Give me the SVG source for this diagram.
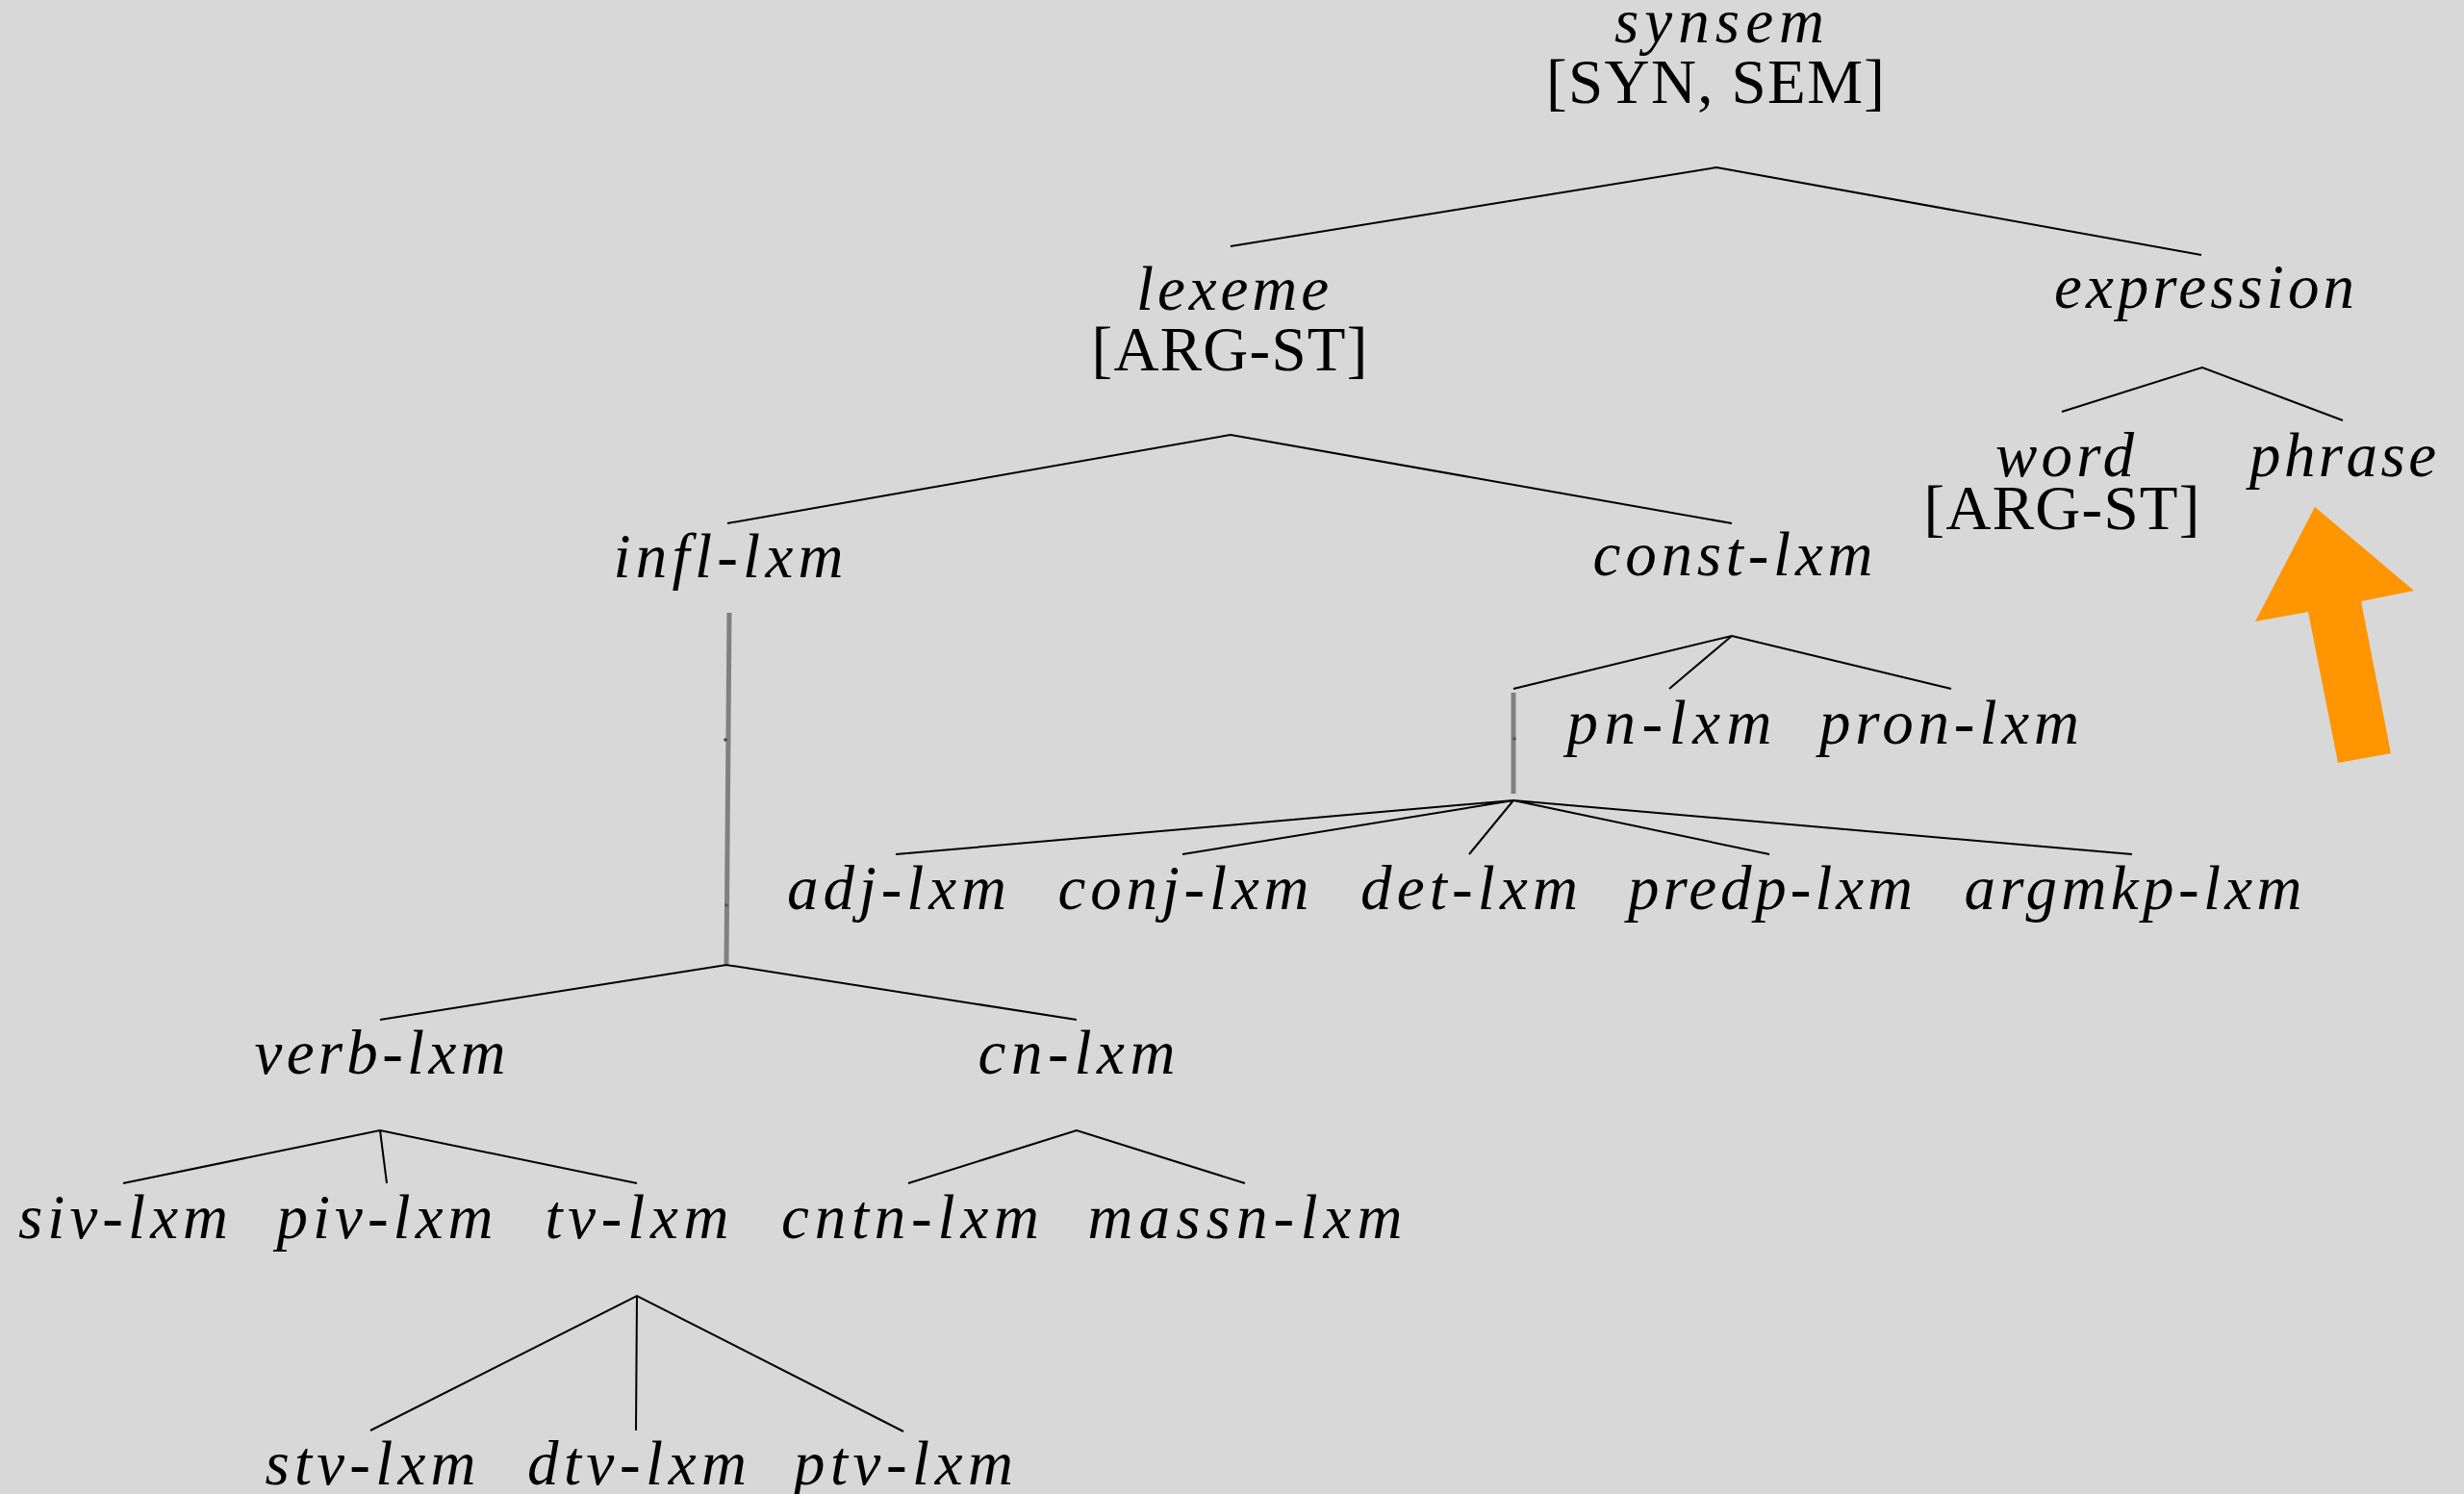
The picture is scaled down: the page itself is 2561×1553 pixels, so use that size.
<svg xmlns="http://www.w3.org/2000/svg" width="2561" height="1553" viewBox="0 0 2561 1553">
<style>
.it{font-family:"Liberation Serif","Times New Roman",serif;font-style:italic;font-size:65px;fill:#000;text-anchor:middle}
.rm{font-family:"Liberation Serif","Times New Roman",serif;font-size:65px;fill:#000;text-anchor:middle}
.e{stroke:#000;stroke-width:2;fill:none}
.g{stroke:#808080;stroke-width:5;fill:none}
</style>
<rect x="0" y="0" width="2561" height="1553" fill="#d8d8d8"/>
<g id="connectors">
<path class="e" d="M1279,256 L1784,174 L2288,265"/>
<path class="e" d="M756,544 L1279,452 L1800,544"/>
<path class="e" d="M2143,428 L2289,382 L2435,437"/>
<path class="g" d="M758,637 L755,1002"/>
<path class="e" d="M395,1060 L755,1003 L1119,1060"/>
<path class="e" d="M1573,716 L1800,661 L2028,716 M1800,661 L1735,716"/>
<path class="g" d="M1573,720 L1573,825"/>
<path class="e" d="M931,888 L1573,832 L2216,888 M1573,832 L1229,888 M1573,832 L1527,888 M1573,832 L1839,888"/>
<path class="e" d="M128,1230 L395,1175 L662,1230 M395,1175 L402,1230"/>
<path class="e" d="M944,1230 L1119,1175 L1294,1230"/>
<path class="e" d="M385,1487 L662,1347 L939,1488 M662,1347 L661,1487"/>
<circle cx="754" cy="769" r="1.8" fill="#444"/>
<circle cx="755" cy="941" r="1.8" fill="#555"/>
<circle cx="1574" cy="768" r="1.8" fill="#555"/>
</g>
<g id="synsem"><text class="it" x="1787" y="44" textLength="218">synsem</text><text class="rm" x="1783" y="107" textLength="352">[SYN, SEM]</text></g>
<g id="lexeme"><text class="it" x="1281" y="322" textLength="200">lexeme</text><text class="rm" x="1278" y="385" textLength="287">[ARG-ST]</text></g>
<g id="expression"><text class="it" x="2291" y="320" textLength="312">expression</text></g>
<g id="word"><text class="it" x="2146" y="495" textLength="144">word</text><text class="rm" x="2143" y="550" textLength="287">[ARG-ST]</text></g>
<g id="phrase"><text class="it" x="2435" y="495" textLength="194">phrase</text></g>
<g id="infl-lxm"><text class="it" x="757" y="600" textLength="239">infl-lxm</text></g>
<g id="const-lxm"><text class="it" x="1801" y="598" textLength="291">const-lxm</text></g>
<g id="pn-lxm"><text class="it" x="1735" y="773" textLength="213">pn-lxm</text></g>
<g id="pron-lxm"><text class="it" x="2026" y="773" textLength="270">pron-lxm</text></g>
<g id="adj-lxm"><text class="it" x="932" y="945" textLength="228">adj-lxm</text></g>
<g id="conj-lxm"><text class="it" x="1230" y="945" textLength="261">conj-lxm</text></g>
<g id="det-lxm"><text class="it" x="1527" y="945" textLength="226">det-lxm</text></g>
<g id="predp-lxm"><text class="it" x="1840" y="945" textLength="296">predp-lxm</text></g>
<g id="argmkp-lxm"><text class="it" x="2217" y="945" textLength="351">argmkp-lxm</text></g>
<g id="verb-lxm"><text class="it" x="395" y="1116" textLength="261">verb-lxm</text></g>
<g id="cn-lxm"><text class="it" x="1119" y="1116" textLength="205">cn-lxm</text></g>
<g id="siv-lxm"><text class="it" x="128" y="1287" textLength="218">siv-lxm</text></g>
<g id="piv-lxm"><text class="it" x="400" y="1287" textLength="225">piv-lxm</text></g>
<g id="tv-lxm"><text class="it" x="662" y="1287" textLength="191">tv-lxm</text></g>
<g id="cntn-lxm"><text class="it" x="946" y="1287" textLength="268">cntn-lxm</text></g>
<g id="massn-lxm"><text class="it" x="1294" y="1287" textLength="327">massn-lxm</text></g>
<g id="stv-lxm"><text class="it" x="385" y="1543" textLength="219">stv-lxm</text></g>
<g id="dtv-lxm"><text class="it" x="662" y="1543" textLength="228">dtv-lxm</text></g>
<g id="ptv-lxm"><text class="it" x="939" y="1543" textLength="228">ptv-lxm</text></g>
<g id="arrow"><polygon points="2406,527 2509,614 2454,625 2485,783 2430,793 2399,636 2344,646" fill="#ff9500"/></g>
</svg>
